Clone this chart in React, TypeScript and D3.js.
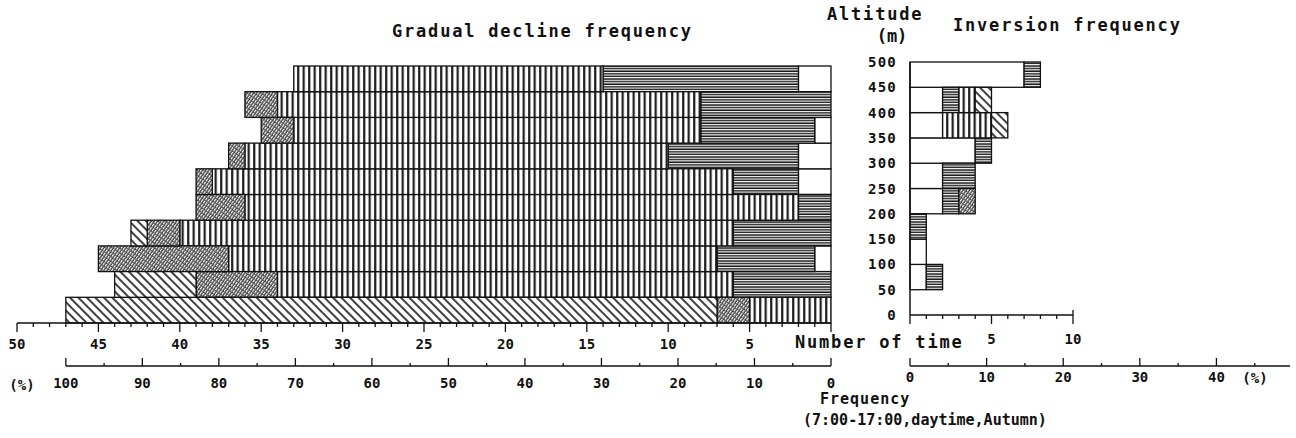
import React from "react";
import * as d3 from "d3";

// Altitude classes (lower bound, m), bottom to top
const altitudes = [0, 50, 100, 150, 200, 250, 300, 350, 400, 450];
const altitudeTicks = [0, 50, 100, 150, 200, 250, 300, 350, 400, 450, 500];

// Gradual decline frequency (number of times), per altitude class
const gWhite = [0, 0, 1, 0, 0, 2, 2, 1, 0, 2];
const gHorizontal = [0, 6, 6, 6, 2, 4, 8, 7, 8, 12];
const gVertical = [5, 28, 30, 34, 34, 32, 26, 25, 26, 19];
const gStipple = [2, 5, 8, 2, 3, 1, 1, 2, 2, 0];
const gDiagonal = [40, 5, 0, 1, 0, 0, 0, 0, 0, 0];

// Inversion frequency (number of times), per altitude class
const iWhite = [0, 1, 1, 0, 2, 2, 4, 2, 2, 7];
const iHorizontal = [0, 1, 0, 1, 1, 2, 1, 0, 1, 1];
const iVertical = [0, 0, 0, 0, 0, 0, 0, 3, 1, 0];
const iStipple = [0, 0, 0, 0, 1, 0, 0, 0, 0, 0];
const iDiagonal = [0, 0, 0, 0, 0, 0, 0, 1, 1, 0];

const seriesKeys = ["white", "horizontal", "vertical", "stipple", "diagonal"];
const fills: Record<string, string> = {
  white: "#ffffff",
  horizontal: "url(#hstripe)",
  vertical: "url(#vstripe)",
  stipple: "url(#stipple)",
  diagonal: "url(#diag)",
};

const totalCount = 47; // 100 %
const leftCountTicks = [50, 45, 40, 35, 30, 25, 20, 15, 10, 5];
const leftPctTicks = [100, 90, 80, 70, 60, 50, 40, 30, 20, 10, 0];
const rightCountTicks = [5, 10];
const rightPctTicks = [0, 10, 20, 30, 40];

const FONT = "'DejaVu Sans Mono', 'Liberation Mono', monospace";

export default function App() {
  const W = 1296;
  const H = 438;

  const xL = d3.scaleLinear().domain([0, 50]).range([831, 17]);
  const pctL = d3.scaleLinear().domain([0, 100]).range([xL(0), xL(totalCount)]);
  const yL = d3.scaleLinear().domain([0, 500]).range([323, 66]);

  const xR = d3.scaleLinear().domain([0, 10]).range([910, 1073]);
  const pctR = d3
    .scaleLinear()
    .domain([0, 100])
    .range([xR(0), xR(0) + (xR(1) - xR(0)) * totalCount]);
  const yR = d3.scaleLinear().domain([0, 500]).range([315, 62]);

  const gRows = altitudes.map((a, i) => ({
    alt: a,
    white: gWhite[i],
    horizontal: gHorizontal[i],
    vertical: gVertical[i],
    stipple: gStipple[i],
    diagonal: gDiagonal[i],
  }));
  const iRows = altitudes.map((a, i) => ({
    alt: a,
    white: iWhite[i],
    horizontal: iHorizontal[i],
    vertical: iVertical[i],
    stipple: iStipple[i],
    diagonal: iDiagonal[i],
  }));
  const stack = d3.stack<any>().keys(seriesKeys);
  const gStack = stack(gRows);
  const iStack = stack(iRows);

  const axisY = yL(0);
  const pctY = 366;
  const rAxisY = yR(0);

  const txt = (props: any, s: string) => (
    <text
      fontFamily={FONT}
      fontWeight="bold"
      fill="#111"
      dominantBaseline="middle"
      {...props}
    >
      {s}
    </text>
  );

  return (
    <svg
      width={W}
      height={H}
      style={{ position: "absolute", left: 0, top: 0, background: "#fff" }}
    >
      <defs>
        <pattern id="hstripe" width="4" height="2.6" patternUnits="userSpaceOnUse">
          <rect width="4" height="2.6" fill="#fff" />
          <line x1="0" y1="1" x2="4" y2="1" stroke="#111" strokeWidth="1.4" />
        </pattern>
        <pattern id="vstripe" width="5.5" height="6" patternUnits="userSpaceOnUse">
          <rect width="5.5" height="6" fill="#fff" />
          <line x1="1.2" y1="0" x2="1.2" y2="6" stroke="#111" strokeWidth="2.1" />
        </pattern>
        <pattern
          id="stipple"
          width="2.6"
          height="4"
          patternUnits="userSpaceOnUse"
          patternTransform="rotate(35)"
        >
          <rect width="2.6" height="4" fill="#fff" />
          <line x1="1" y1="0" x2="1" y2="4" stroke="#222" strokeWidth="1.2" />
          <rect x="1.8" y="2" width="0.8" height="1" fill="#333" />
        </pattern>
        <pattern
          id="diag"
          width="6"
          height="6"
          patternUnits="userSpaceOnUse"
          patternTransform="rotate(-45)"
        >
          <rect width="6" height="6" fill="#fff" />
          <line x1="1" y1="0" x2="1" y2="6" stroke="#111" strokeWidth="1.6" />
        </pattern>
      </defs>

      {/* Titles */}
      {txt({ x: 392, y: 32, fontSize: 17, letterSpacing: 1.8 }, "Gradual decline frequency")}
      {txt({ x: 827, y: 15, fontSize: 17, letterSpacing: 1.8 }, "Altitude")}
      {txt({ x: 892, y: 37, fontSize: 17, textAnchor: "middle" }, "(m)")}
      {txt({ x: 953, y: 26, fontSize: 17, letterSpacing: 1.8 }, "Inversion frequency")}

      {/* Left chart bars */}
      {gStack.map((layer) =>
        layer.map((d, i) =>
          d[1] - d[0] > 0 ? (
            <rect
              key={layer.key + i}
              x={xL(d[1])}
              y={yL(altitudes[i] + 50)}
              width={xL(d[0]) - xL(d[1])}
              height={yL(altitudes[i]) - yL(altitudes[i] + 50)}
              fill={fills[layer.key]}
              stroke="#111"
              strokeWidth={1.3}
            />
          ) : null
        )
      )}

      {/* Left count axis */}
      <line x1={xL(50)} x2={xL(0)} y1={axisY} y2={axisY} stroke="#111" strokeWidth={1.5} />
      {d3.range(0, 51).map((v) => (
        <line
          key={"lt" + v}
          x1={xL(v)}
          x2={xL(v)}
          y1={axisY}
          y2={axisY + (v % 5 === 0 ? 9 : 4)}
          stroke="#111"
          strokeWidth={1.3}
        />
      ))}
      {leftCountTicks.map((v) =>
        txt({ key: "ll" + v, x: xL(v), y: 345, fontSize: 14, textAnchor: "middle" }, String(v))
      )}
      {txt({ x: 795, y: 343, fontSize: 17, letterSpacing: 1.8 }, "Number of time")}

      {/* Left percent axis */}
      <line x1={pctL(100)} x2={pctL(0)} y1={pctY} y2={pctY} stroke="#111" strokeWidth={1.5} />
      {d3.range(0, 101, 5).map((v) => (
        <line
          key={"pt" + v}
          x1={pctL(v)}
          x2={pctL(v)}
          y1={pctY}
          y2={pctY - (v % 10 === 0 ? 8 : 3)}
          stroke="#111"
          strokeWidth={1.3}
        />
      ))}
      {leftPctTicks.map((v) =>
        txt({ key: "pl" + v, x: pctL(v), y: 384, fontSize: 14, textAnchor: "middle" }, String(v))
      )}
      {txt({ x: 22, y: 386, fontSize: 14, textAnchor: "middle" }, "(%)")}

      {/* Right chart bars */}
      {iStack.map((layer) =>
        layer.map((d, i) =>
          d[1] - d[0] > 0 ? (
            <rect
              key={"r" + layer.key + i}
              x={xR(d[0])}
              y={yR(altitudes[i] + 50)}
              width={xR(d[1]) - xR(d[0])}
              height={yR(altitudes[i]) - yR(altitudes[i] + 50)}
              fill={fills[layer.key]}
              stroke="#111"
              strokeWidth={1.3}
            />
          ) : null
        )
      )}

      {/* Right altitude axis */}
      <line x1={xR(0)} x2={xR(0)} y1={yR(500)} y2={yR(0)} stroke="#111" strokeWidth={1.5} />
      {altitudeTicks.map((v) =>
        txt(
          { key: "ya" + v, x: 897, y: yR(v) + 1, fontSize: 14, letterSpacing: 1.2, textAnchor: "end" },
          String(v)
        )
      )}

      {/* Right count axis */}
      <line x1={xR(0)} x2={xR(10)} y1={rAxisY} y2={rAxisY} stroke="#111" strokeWidth={1.5} />
      {d3.range(0, 11).map((v) => (
        <line
          key={"rt" + v}
          x1={xR(v)}
          x2={xR(v)}
          y1={v === 10 ? rAxisY - 5 : rAxisY}
          y2={rAxisY + (v % 5 === 0 ? 9 : 4)}
          stroke="#111"
          strokeWidth={1.3}
        />
      ))}
      {rightCountTicks.map((v) =>
        txt({ key: "rl" + v, x: xR(v), y: 340, fontSize: 14, textAnchor: "middle" }, String(v))
      )}

      {/* Right percent axis */}
      <line x1={pctR(0)} x2={1290} y1={pctY} y2={pctY} stroke="#111" strokeWidth={1.5} />
      {d3.range(0, 46, 5).map((v) => (
        <line
          key={"rp" + v}
          x1={pctR(v)}
          x2={pctR(v)}
          y1={pctY}
          y2={pctY - (v % 10 === 0 ? 8 : 3)}
          stroke="#111"
          strokeWidth={1.3}
        />
      ))}
      {rightPctTicks.map((v) =>
        txt({ key: "rpl" + v, x: pctR(v), y: 378, fontSize: 14, textAnchor: "middle" }, String(v))
      )}
      {txt({ x: 1255, y: 379, fontSize: 14, textAnchor: "middle" }, "(%)")}

      {/* Bottom caption */}
      {txt({ x: 820, y: 399, fontSize: 15, letterSpacing: 1 }, "Frequency")}
      {txt({ x: 803, y: 420, fontSize: 15 }, "(7:00-17:00,daytime,Autumn)")}
    </svg>
  );
}
